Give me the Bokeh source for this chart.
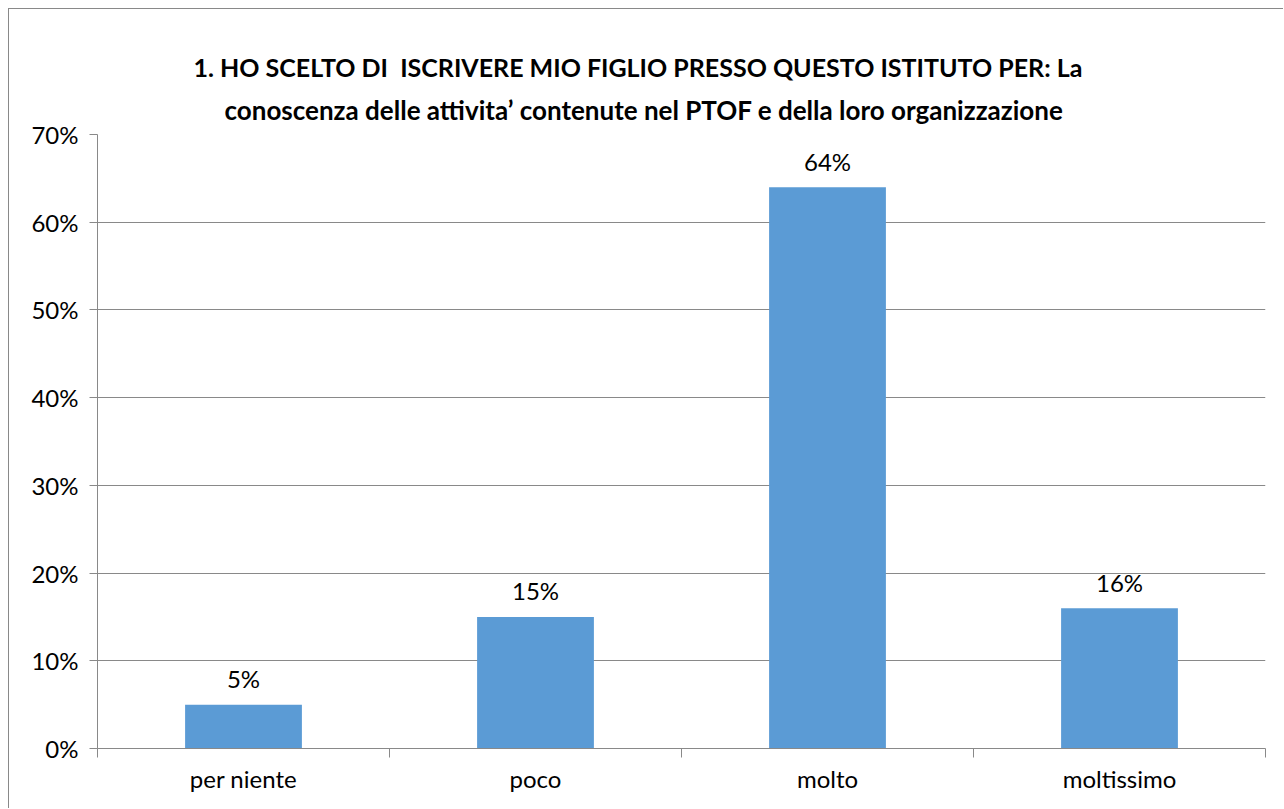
from bokeh.plotting import figure
from bokeh.models import ColumnDataSource, FixedTicker, NumeralTickFormatter, Title, Range1d
from bokeh.core.properties import value
from bokeh.embed import file_html
from bokeh.resources import INLINE

categories = ["per niente", "poco", "molto", "moltissimo"]
values = [0.05, 0.15, 0.64, 0.16]
labels = ["5%", "15%", "64%", "16%"]
title_lines = [
    "1. HO SCELTO DI \u00a0ISCRIVERE MIO FIGLIO PRESSO QUESTO ISTITUTO PER: La",
    "conoscenza delle attivita\u2019 contenute nel PTOF e della loro organizzazione",
]
y_ticks = [0, 0.1, 0.2, 0.3, 0.4, 0.5, 0.6, 0.7]

FONT = "Lato"
GRAY = "#898989"
BLUE = "#5B9BD5"
FS = "24px"

xs = [i + 0.5 for i in range(len(categories))]
src = ColumnDataSource(dict(x=xs, top=values, lab=labels))

p = figure(width=1275, height=800, output_backend="svg", toolbar_location=None,
           x_range=Range1d(0, len(categories)), y_range=Range1d(0, 0.7),
           min_border_left=88, min_border_right=19, min_border_top=125, min_border_bottom=61)
p.styles = {"margin-left": "8px", "margin-top": "8px",
            "border-top": "1px solid #898989", "border-left": "1px solid #898989"}
p.outline_line_color = None
p.background_fill_color = "white"
p.border_fill_color = "white"

p.vbar(x="x", top="top", width=0.4, bottom=0, source=src, fill_color=BLUE, line_color=None)
p.text(x="x", y="top", text="lab", source=src, text_align="center", text_baseline="middle",
       y_offset=-26, text_font=value(FONT), text_font_size=FS, text_color="#000000")

# x axis
xa = p.xaxis[0]
xa.ticker = FixedTicker(ticks=xs, minor_ticks=list(range(len(categories) + 1)))
xa.major_label_overrides = {x: c for x, c in zip(xs, categories)}
xa.major_tick_out = 0
xa.major_tick_in = 0
xa.minor_tick_out = 9
xa.minor_tick_in = 0
xa.minor_tick_line_color = GRAY
xa.axis_line_color = GRAY
xa.major_label_text_font = FONT
xa.major_label_text_font_size = FS
xa.major_label_text_color = "#000000"
xa.major_label_standoff = 6

# y axis
ya = p.yaxis[0]
ya.ticker = FixedTicker(ticks=y_ticks)
ya.formatter = NumeralTickFormatter(format="0%")
ya.major_tick_out = 8
ya.major_tick_in = 0
ya.minor_tick_out = 0
ya.minor_tick_in = 0
ya.major_tick_line_color = GRAY
ya.axis_line_color = GRAY
ya.major_label_text_font = FONT
ya.major_label_text_font_size = FS
ya.major_label_text_color = "#000000"
ya.major_label_standoff = 11

p.xgrid.grid_line_color = None
p.ygrid.ticker = FixedTicker(ticks=y_ticks)
p.ygrid.grid_line_color = GRAY
p.ygrid.grid_line_width = 1

# title: second line closest to the frame, first line above it
for line, st, off, tfs in [(title_lines[1], 18, 127, "26px"), (title_lines[0], 2, 96, "25px")]:
    p.add_layout(Title(text=line, align="left", text_font=FONT, text_font_style="bold",
                       text_font_size=tfs, text_color="#000000", standoff=st, offset=off), "above")

open("out.html", "w").write(file_html(p, INLINE))
